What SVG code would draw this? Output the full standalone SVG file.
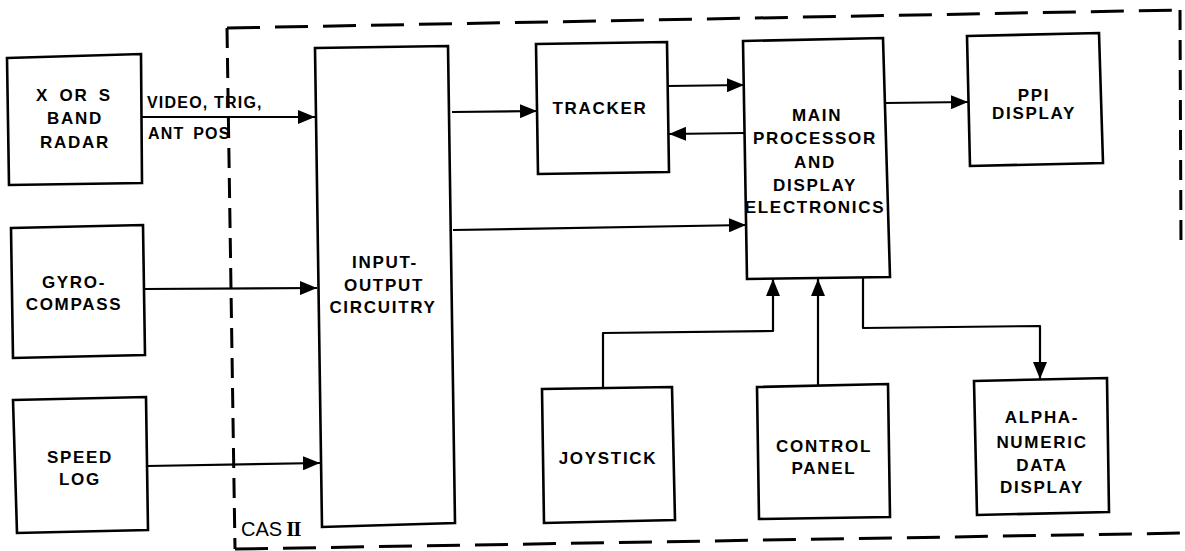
<svg xmlns="http://www.w3.org/2000/svg" width="1185" height="551" viewBox="0 0 1185 551">
<style>
.box{fill:#fff;stroke:#000;stroke-width:2.6}
.t{font-family:"Liberation Sans",Arial,sans-serif;font-weight:bold;font-size:17px;letter-spacing:1.7px;text-anchor:middle;fill:#000}
.lbl{font-family:"Liberation Sans",Arial,sans-serif;font-weight:bold;font-size:16px;letter-spacing:1.2px;fill:#000}
.c{fill:none;stroke:#000;stroke-width:2.2;stroke-linejoin:round}
.dh{fill:none;stroke:#000;stroke-width:3;stroke-dasharray:33 15}
.dv{fill:none;stroke:#000;stroke-width:3;stroke-dasharray:20 10}
</style>
<defs>
<marker id="ah" markerUnits="userSpaceOnUse" markerWidth="18" markerHeight="14" refX="17" refY="7" orient="auto">
<path d="M0,0 L17,7 L0,14 Z" fill="#000"/>
</marker>
</defs>
<rect width="1185" height="551" fill="#fff"/>
<g id="boundary">
<path class="dh" d="M227,28 L1180,10"/>
<path class="dv" d="M1180,10 L1181,250"/>
<path class="dh" d="M235,549 L1185,533"/>
<path class="dv" d="M227,28 L235,549"/>
<text x="241" y="536" font-family="Liberation Sans,Arial,sans-serif" font-size="20" fill="#000">CAS<tspan font-family="Liberation Serif,Times New Roman,serif" font-size="21" font-weight="bold" dx="4" letter-spacing="-1">II</tspan></text>
</g>
<g id="connectors">
<path class="c" d="M142,117 L315,117" marker-end="url(#ah)"/>
<path class="c" d="M144,289 L317,288" marker-end="url(#ah)"/>
<path class="c" d="M147,466 L320,463" marker-end="url(#ah)"/>
<path class="c" d="M452,112 L537,111" marker-end="url(#ah)"/>
<path class="c" d="M668,86 L744,85" marker-end="url(#ah)"/>
<path class="c" d="M745,133 L669,134" marker-end="url(#ah)"/>
<path class="c" d="M453,230 L746,225" marker-end="url(#ah)"/>
<path class="c" d="M886,103 L968,102" marker-end="url(#ah)"/>
<path class="c" d="M603,388 L603,333 L773,331 L773,279" marker-end="url(#ah)"/>
<path class="c" d="M818,386 L818,279" marker-end="url(#ah)"/>
<path class="c" d="M863,278 L863,328 L1040,326 L1040,379" marker-end="url(#ah)"/>
<text class="lbl" x="147" y="108">VIDEO, TRIG,</text>
<text class="lbl" x="148" y="139" word-spacing="3">ANT POS</text>
</g>
<g id="radar">
<path class="box" d="M7,58 L141,54 L142,183 L9,185 Z"/>
<text class="t" x="74" y="101" word-spacing="4">X OR S</text>
<text class="t" x="75" y="124">BAND</text>
<text class="t" x="75" y="148">RADAR</text>
</g>
<g id="gyro">
<path class="box" d="M11,228 L143,225 L145,355 L13,358 Z"/>
<text class="t" x="74" y="288">GYRO-</text>
<text class="t" x="74" y="310">COMPASS</text>
</g>
<g id="speedlog">
<path class="box" d="M13,400 L146,397 L148,530 L17,533 Z"/>
<text class="t" x="80" y="463">SPEED</text>
<text class="t" x="80" y="485">LOG</text>
</g>
<g id="io">
<path class="box" d="M315,48 L448,46 L455,523 L322,527 Z"/>
<text class="t" x="385" y="268">INPUT-</text>
<text class="t" x="384" y="291">OUTPUT</text>
<text class="t" x="383" y="313" letter-spacing="1">CIRCUITRY</text>
</g>
<g id="tracker">
<path class="box" d="M536,44 L667,42 L669,172 L538,174 Z"/>
<text class="t" x="600" y="114">TRACKER</text>
</g>
<g id="main">
<path class="box" d="M743,41 L883,38 L890,277 L747,279 Z"/>
<text class="t" x="817" y="121">MAIN</text>
<text class="t" x="815" y="144" letter-spacing="1">PROCESSOR</text>
<text class="t" x="815" y="168">AND</text>
<text class="t" x="815" y="191">DISPLAY</text>
<text class="t" x="815" y="213" letter-spacing="0">ELECTRONICS</text>
</g>
<g id="ppi">
<path class="box" d="M967,36 L1099,33 L1103,163 L970,166 Z"/>
<text class="t" x="1034" y="101">PPI</text>
<text class="t" x="1034" y="119">DISPLAY</text>
</g>
<g id="joystick">
<path class="box" d="M542,389 L672,387 L675,520 L544,523 Z"/>
<text class="t" x="608" y="464">JOYSTICK</text>
</g>
<g id="control">
<path class="box" d="M757,387 L888,384 L890,517 L759,519 Z"/>
<text class="t" x="824" y="452">CONTROL</text>
<text class="t" x="824" y="474">PANEL</text>
</g>
<g id="alpha">
<path class="box" d="M974,381 L1107,378 L1109,512 L977,515 Z"/>
<text class="t" x="1042" y="423">ALPHA-</text>
<text class="t" x="1042" y="448">NUMERIC</text>
<text class="t" x="1042" y="471">DATA</text>
<text class="t" x="1042" y="493">DISPLAY</text>
</g>
</svg>
